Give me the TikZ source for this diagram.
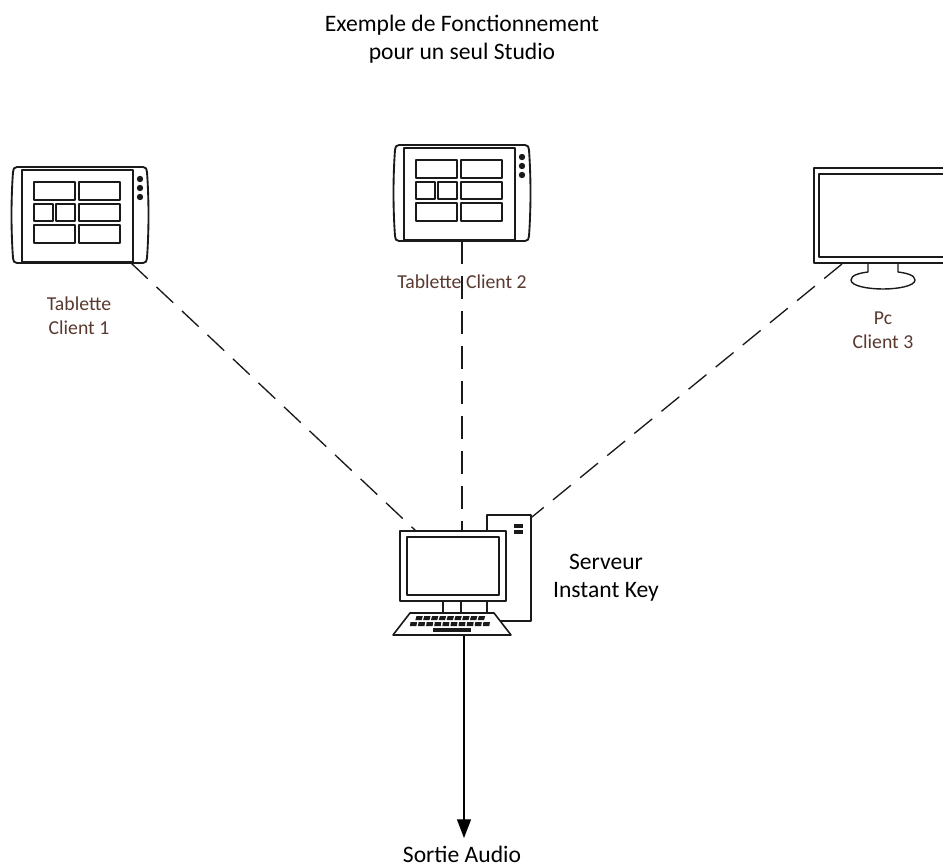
\documentclass[tikz,border=0pt]{standalone}
\usepackage{fontspec}
\setmainfont{Carlito}
\usetikzlibrary{arrows.meta}
\definecolor{lbl}{HTML}{5A3A30}
\definecolor{ink}{HTML}{1A1A1A}
\tikzset{
  x=0.75pt,y=-0.75pt,
  device/.style={draw=ink,line width=1.4pt,line join=round},
  thin device/.style={draw=ink,line width=1.05pt,line join=round},
  link/.style={draw=ink,line width=1pt,dash pattern=on 17.25pt off 9pt},
  audio/.style={draw=black,line width=0.85pt,-{Stealth[length=14pt,width=10.5pt,inset=0pt]}},
  title/.style={align=center,font=\fontsize{17.7}{21}\selectfont,text=black,inner sep=0pt},
  caption/.style={align=center,font=\fontsize{14.8}{18}\selectfont,text=lbl,inner sep=0pt},
}
\newcommand{\tabletdrawing}[3]{%
\begin{scope}[shift={(#1,#2)}]
  \draw[device] (17,167) -- (143,167) .. controls (146,167) and (147,169) .. (147,172)
     .. controls (149,200) and (149,230) .. (147,258) .. controls (147,261) and (146,263) .. (143,263)
     -- (17,263) .. controls (14,263) and (13,261) .. (13,258)
     .. controls (11,230) and (11,200) .. (13,172) .. controls (13,169) and (14,167) .. (17,167) -- cycle;
  \draw[device] (22,170) rectangle (133,262);
  \foreach \yy in {179,188,197} \fill[ink] (140,\yy) circle (3.2);
  \draw[thin device] (34,182) rectangle (75,200);
  \draw[thin device] (79,182) rectangle (120,200);
  \draw[thin device] (34,204) rectangle (53,221);
  \draw[thin device] (56,204) rectangle (75,221);
  \draw[thin device] (79,204) rectangle (120,221);
  \draw[thin device] (34,225) rectangle (75,243);
  \draw[thin device] (79,225) rectangle (120,243);
  \coordinate (#3-corner) at (131,263);
  \coordinate (#3-bottom) at (80,263);
\end{scope}}
\begin{document}
\begin{tikzpicture}
\useasboundingbox (0,0) rectangle (943,867);
\fill[white] (0,0) rectangle (943,867);

\coordinate (srvL) at (416,531);
\coordinate (srvT) at (462,531);
\coordinate (srvR) at (532,517);
\coordinate (srvB) at (464,636);
\coordinate (pcC) at (842,264);
\coordinate (audioTip) at (464,838);

\tabletdrawing{0}{0}{tabA}
\tabletdrawing{382}{-22}{tabB}

% PC
\draw[device,line width=1.3pt] (943,168) -- (814,168) -- (814,263) -- (943,263);
\draw[device,line width=1.3pt] (943,174) -- (819,174) -- (819,257) -- (943,257);
\draw[thin device] (868,263) -- (868,272) .. controls (860,273) and (851,275) .. (851,280)
   .. controls (851,286) and (868,289) .. (883,289) .. controls (898,289) and (915,286) .. (915,280)
   .. controls (915,275) and (906,273) .. (898,272) -- (898,263);

% Server
\draw[thin device] (487,531) -- (487,515) -- (531,515) -- (531,621) -- (500,621);
\fill[ink] (514,523.5) rectangle (523,527.5);
\fill[ink] (514,530) rectangle (523,534);
\draw[device,line width=1.3pt] (400,531) rectangle (506,601);
\draw[device,line width=1.3pt] (407,537) rectangle (499,595);
\draw[thin device] (443,601) -- (443,613) (461,601) -- (461,613) (487,601) -- (487,613);
\draw[thin device,line width=1.2pt] (410,613) -- (494,613) -- (511,635) -- (393,635) -- cycle;
\foreach \i in {0,...,8} \fill[ink] ({416.5+\i*7.8},616) -- ++(6.3,0) -- ++(-1.2,4.2) -- ++(-6.3,0) -- cycle;
\foreach \i in {0,...,9} \fill[ink] ({410.5+\i*8.1},622) -- ++(6.5,0) -- ++(-0.6,4.2) -- ++(-6.5,0) -- cycle;
\fill[ink] (433,627.5) rectangle (471,631.5);

\path[link] (tabA-corner) -- (srvL);
\path[link] (tabB-bottom) -- (srvT);
\path[link] (pcC) -- (srvR);
\path[audio] (srvB) -- (audioTip);

% Labels
\node[title] (ttl) at (462,39) {Exemple de Fonctionnement\\pour un seul Studio};
\node[caption] (capA) at (79,316) {Tablette\\Client 1};
\node[caption] (capB) at (462,282) {Tablette Client 2};
\node[caption] (capC) at (883,330) {Pc\\Client 3};
\node[title] (capS) at (606,577.5) {Serveur\\Instant Key};
\node[title] (capO) at (462,854.5) {Sortie Audio};
\end{tikzpicture}
\end{document}
